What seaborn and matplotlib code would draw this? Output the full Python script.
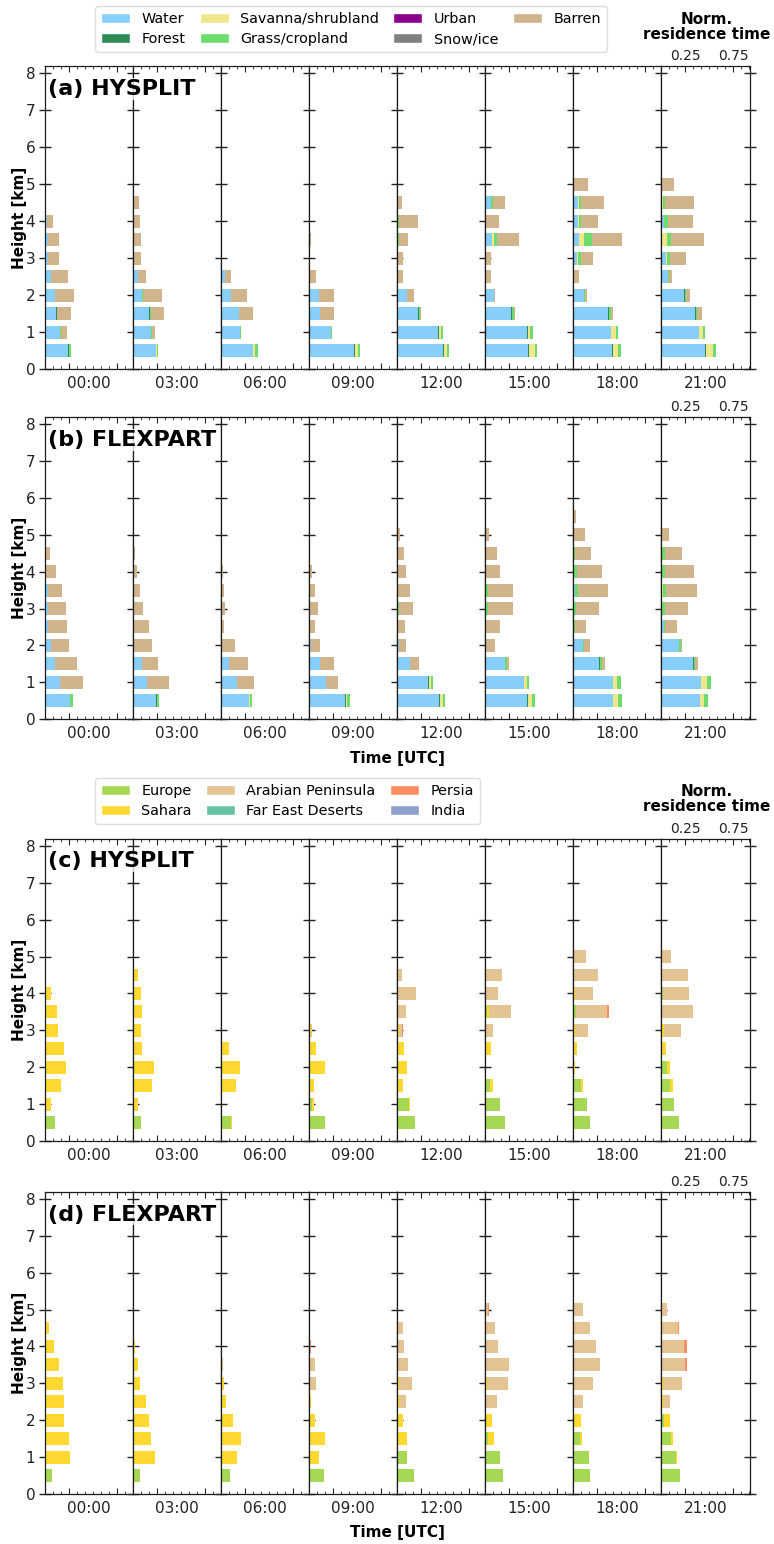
import numpy as np
import matplotlib
matplotlib.use("Agg")
import matplotlib.pyplot as plt
import seaborn as sns
from matplotlib.patches import Patch
from matplotlib.ticker import MultipleLocator, FixedLocator

sns.set_style("ticks")
plt.rcParams["font.family"] = ["DejaVu Sans"]
plt.rcParams.update({"text.color": "black", "axes.labelcolor": "black",
                     "xtick.color": "#222222", "ytick.color": "#222222"})

# ---------------------------------------------------------------- data
TIMES = ["00:00", "03:00", "06:00", "09:00", "12:00", "15:00", "18:00", "21:00"]
LEVELS = [0.5, 1.0, 1.5, 2.0, 2.5, 3.0, 3.5, 4.0, 4.5, 5.0, 5.5]  # km

LAND_CLASSES = ["Water", "Forest", "Savanna/shrubland", "Grass/cropland",
                "Urban", "Snow/ice", "Barren"]
LAND_COLORS = ["#87CEFA", "#2E8B57", "#F0E68C", "#6CDC6C",
               "#8B008B", "#808080", "#D2B48C"]

REGIONS = ["Europe", "Sahara", "Arabian Peninsula", "Far East Deserts",
           "Persia", "India"]
REGION_COLORS = ["#A6D854", "#FFD92F", "#E5C494", "#66C2A5",
                 "#FC8D62", "#8DA0CB"]

Z = [0] * 11

# (a) HYSPLIT land cover: [slot][level]
HYS_WATER = [
    [0.245, 0.16, 0.118, 0.10, 0.066, 0.03, 0.027, 0.017, 0, 0, 0],
    [0.235, 0.187, 0.17, 0.09, 0.052, 0.013, 0.005, 0, 0.01, 0, 0],
    [0.33, 0.20, 0.19, 0.10, 0.04, 0, 0, 0, 0, 0, 0],
    [0.47, 0.23, 0.11, 0.10, 0, 0, 0, 0, 0, 0, 0],
    [0.48, 0.43, 0.22, 0.10, 0, 0, 0.005, 0.01, 0, 0, 0],
    [0.45, 0.44, 0.27, 0.09, 0, 0, 0.07, 0, 0.06, 0, 0],
    [0.405, 0.395, 0.365, 0.115, 0.005, 0.04, 0.06, 0.05, 0.05, 0, 0],
    [0.46, 0.39, 0.355, 0.24, 0.065, 0.05, 0.005, 0.03, 0.01, 0, 0],
]
HYS_FOREST = [
    [0.005, 0, 0.003, 0, 0, 0, 0, 0, 0, 0, 0],
    [0.005, 0.005, 0.01, 0, 0, 0, 0, 0, 0, 0, 0],
    [0.005, 0, 0, 0, 0, 0, 0, 0, 0, 0, 0],
    [0.005, 0, 0, 0, 0, 0, 0, 0, 0, 0, 0],
    [0.005, 0.005, 0.005, 0, 0, 0, 0, 0, 0, 0, 0],
    [0.005, 0.005, 0.005, 0, 0, 0, 0, 0, 0, 0, 0],
    [0.005, 0, 0.005, 0, 0, 0, 0, 0, 0, 0, 0],
    [0.005, 0, 0.005, 0.005, 0, 0, 0, 0, 0, 0, 0],
]
HYS_SAVANNA = [
    Z,
    [0.005, 0, 0, 0, 0, 0, 0, 0, 0, 0, 0],
    [0.02, 0, 0, 0, 0, 0, 0, 0, 0, 0, 0],
    [0.03, 0, 0, 0, 0, 0, 0, 0, 0, 0, 0],
    [0.03, 0.02, 0, 0, 0, 0, 0, 0, 0, 0, 0],
    [0.06, 0.02, 0, 0, 0, 0, 0.02, 0, 0, 0, 0],
    [0.055, 0.05, 0, 0, 0, 0.01, 0.055, 0.01, 0.01, 0, 0],
    [0.07, 0.045, 0, 0, 0, 0.01, 0.05, 0, 0.01, 0, 0],
]
HYS_GRASS = [
    [0.02, 0.005, 0, 0.003, 0, 0, 0, 0, 0, 0, 0],
    [0.02, 0.01, 0.01, 0.01, 0, 0, 0, 0, 0, 0, 0],
    [0.03, 0.005, 0, 0, 0, 0, 0, 0, 0, 0, 0],
    [0.03, 0.01, 0, 0, 0, 0, 0, 0, 0, 0, 0],
    [0.025, 0.02, 0.01, 0, 0, 0, 0.01, 0.01, 0, 0, 0],
    [0.03, 0.03, 0.02, 0, 0, 0, 0.03, 0.01, 0.02, 0, 0],
    [0.03, 0.02, 0.025, 0.005, 0, 0.03, 0.075, 0.02, 0.02, 0.01, 0],
    [0.04, 0.025, 0.015, 0.015, 0.01, 0.03, 0.05, 0.04, 0.02, 0.01, 0],
]
HYS_URBAN = [Z] * 8
HYS_SNOW = [Z, Z, Z, Z, Z, Z,
            [0, 0.005, 0, 0, 0, 0, 0, 0, 0, 0, 0], Z]
HYS_BARREN = [
    [0, 0.06, 0.153, 0.20, 0.177, 0.115, 0.115, 0.07, 0, 0, 0],
    [0, 0.03, 0.13, 0.20, 0.08, 0.075, 0.08, 0.075, 0.05, 0, 0],
    [0, 0, 0.145, 0.17, 0.065, 0.01, 0, 0, 0, 0, 0],
    [0, 0, 0.145, 0.155, 0.07, 0.01, 0.02, 0, 0, 0, 0],
    [0, 0, 0.01, 0.08, 0.06, 0.06, 0.10, 0.20, 0.05, 0, 0],
    [0, 0, 0.01, 0.01, 0.06, 0.06, 0.23, 0.13, 0.13, 0, 0],
    [0, 0, 0.02, 0.02, 0.05, 0.12, 0.32, 0.18, 0.24, 0.14, 0],
    [0, 0, 0.045, 0.035, 0.04, 0.17, 0.34, 0.26, 0.30, 0.12, 0],
]

# (b) FLEXPART land cover
FLX_WATER = [
    [0.26, 0.16, 0.10, 0.06, 0.03, 0.03, 0.03, 0.01, 0, 0, 0],
    [0.24, 0.15, 0.09, 0.01, 0, 0.01, 0, 0, 0, 0, 0],
    [0.29, 0.17, 0.08, 0.01, 0, 0, 0, 0, 0, 0, 0],
    [0.375, 0.18, 0.11, 0.02, 0, 0.01, 0, 0, 0, 0, 0],
    [0.44, 0.32, 0.13, 0.02, 0, 0.01, 0, 0.01, 0, 0, 0],
    [0.44, 0.40, 0.21, 0, 0, 0.01, 0.01, 0, 0, 0, 0],
    [0.41, 0.41, 0.27, 0.10, 0, 0.01, 0.02, 0.01, 0, 0, 0],
    [0.40, 0.41, 0.33, 0.18, 0.03, 0.01, 0.01, 0.01, 0.005, 0, 0],
]
FLX_FOREST = [
    [0.005, 0, 0, 0, 0, 0, 0.005, 0, 0, 0, 0],
    [0.005, 0, 0, 0, 0, 0, 0, 0, 0, 0, 0],
    [0.005, 0, 0, 0, 0, 0, 0, 0, 0, 0, 0],
    [0.005, 0, 0, 0, 0, 0, 0, 0, 0, 0, 0],
    [0.005, 0.01, 0, 0, 0, 0, 0, 0, 0, 0, 0],
    [0.005, 0.005, 0, 0, 0, 0, 0, 0, 0, 0, 0],
    [0.005, 0.005, 0.005, 0, 0, 0, 0, 0, 0, 0, 0],
    [0.005, 0.005, 0.005, 0, 0, 0, 0, 0, 0, 0, 0],
]
FLX_SAVANNA = [
    Z, Z,
    [0.01, 0, 0, 0, 0, 0, 0, 0, 0, 0, 0],
    [0.02, 0, 0, 0, 0, 0, 0, 0, 0, 0, 0],
    [0.03, 0.02, 0, 0, 0, 0, 0, 0, 0, 0, 0],
    [0.04, 0.03, 0, 0, 0, 0, 0, 0, 0, 0, 0],
    [0.05, 0.04, 0, 0, 0, 0, 0, 0, 0, 0, 0],
    [0.04, 0.06, 0, 0, 0, 0, 0.005, 0, 0.005, 0, 0],
]
FLX_GRASS = [
    [0.03, 0, 0, 0, 0, 0, 0, 0, 0, 0, 0],
    [0.03, 0, 0, 0, 0, 0, 0, 0, 0, 0, 0],
    [0.02, 0, 0, 0, 0, 0, 0, 0, 0, 0, 0],
    [0.03, 0, 0, 0, 0, 0, 0, 0, 0, 0, 0],
    [0.02, 0.02, 0, 0, 0, 0.01, 0.01, 0, 0, 0, 0],
    [0.03, 0.02, 0.02, 0, 0, 0.02, 0.02, 0, 0, 0, 0],
    [0.04, 0.04, 0.02, 0.01, 0.02, 0.02, 0.03, 0.03, 0.02, 0.005, 0],
    [0.04, 0.04, 0.02, 0.02, 0.01, 0.03, 0.03, 0.03, 0.03, 0.005, 0],
]
FLX_URBAN = [Z] * 8
FLX_SNOW = [Z] * 8
FLX_BARREN = [
    [0, 0.24, 0.23, 0.19, 0.20, 0.19, 0.14, 0.10, 0.05, 0, 0],
    [0, 0.23, 0.17, 0.19, 0.17, 0.09, 0.07, 0.045, 0.02, 0, 0],
    [0, 0.17, 0.20, 0.14, 0.03, 0.04, 0.03, 0.02, 0, 0, 0],
    [0, 0.12, 0.15, 0.09, 0.06, 0.08, 0.06, 0.03, 0.01, 0, 0],
    [0, 0, 0.10, 0.07, 0.08, 0.14, 0.12, 0.08, 0.07, 0.03, 0],
    [0, 0, 0.02, 0.10, 0.15, 0.26, 0.26, 0.15, 0.12, 0.04, 0.01],
    [0, 0, 0.04, 0.06, 0.11, 0.24, 0.31, 0.26, 0.16, 0.12, 0.03],
    [0, 0, 0.03, 0.01, 0.12, 0.24, 0.33, 0.30, 0.18, 0.07, 0.01],
]

# (c) HYSPLIT source regions
HYS_EUROPE = [
    [0.10, 0, 0, 0, 0, 0, 0, 0, 0, 0, 0],
    [0.08, 0, 0, 0, 0, 0, 0, 0, 0, 0, 0],
    [0.10, 0, 0, 0, 0, 0, 0, 0, 0, 0, 0],
    [0.17, 0.03, 0, 0, 0, 0, 0, 0, 0, 0, 0],
    [0.19, 0.12, 0, 0, 0, 0, 0, 0, 0, 0, 0],
    [0.21, 0.155, 0.05, 0, 0, 0, 0.02, 0, 0, 0, 0],
    [0.17, 0.143, 0.083, 0, 0, 0, 0.025, 0.005, 0.01, 0, 0],
    [0.18, 0.13, 0.087, 0.06, 0, 0, 0.01, 0.02, 0, 0, 0],
]
HYS_SAHARA = [
    [0, 0.06, 0.17, 0.22, 0.20, 0.135, 0.125, 0.06, 0, 0, 0],
    [0, 0.05, 0.20, 0.22, 0.09, 0.08, 0.09, 0.08, 0.05, 0, 0],
    [0.01, 0, 0.16, 0.20, 0.08, 0, 0, 0, 0, 0, 0],
    [0, 0.02, 0.05, 0.17, 0.07, 0.02, 0, 0, 0, 0, 0],
    [0, 0.01, 0.06, 0.10, 0.07, 0.02, 0, 0.01, 0, 0, 0],
    [0, 0, 0.03, 0.01, 0.06, 0.01, 0.02, 0.01, 0, 0, 0],
    [0, 0, 0.017, 0.02, 0.035, 0.02, 0, 0.01, 0, 0, 0],
    [0, 0, 0.037, 0.03, 0.05, 0.03, 0, 0, 0, 0, 0],
]
HYS_ARABIA = [
    Z, Z, Z,
    [0, 0, 0, 0, 0, 0.01, 0.01, 0, 0, 0, 0],
    [0, 0, 0, 0, 0, 0.03, 0.09, 0.19, 0.05, 0, 0],
    [0, 0, 0, 0, 0, 0.07, 0.23, 0.12, 0.17, 0, 0],
    [0, 0, 0, 0, 0, 0.13, 0.33, 0.19, 0.25, 0.13, 0],
    [0, 0, 0, 0, 0, 0.17, 0.32, 0.27, 0.28, 0.10, 0],
]
HYS_FAREAST = [Z] * 8
HYS_PERSIA = [
    Z, Z, Z, Z,
    [0, 0, 0, 0, 0, 0.01, 0, 0, 0, 0, 0],
    Z,
    [0, 0, 0, 0, 0, 0, 0.02, 0, 0, 0, 0],
    Z,
]
HYS_INDIA = [Z] * 8

# (d) FLEXPART source regions
FLX_EUROPE = [
    [0.075, 0, 0, 0, 0, 0, 0, 0, 0, 0, 0],
    [0.07, 0, 0, 0, 0, 0, 0, 0, 0, 0, 0],
    [0.09, 0, 0, 0, 0, 0, 0, 0, 0, 0, 0],
    [0.15, 0, 0, 0, 0, 0, 0, 0, 0, 0, 0],
    [0.18, 0.10, 0, 0, 0, 0, 0, 0, 0, 0, 0],
    [0.18, 0.155, 0.03, 0, 0, 0, 0, 0, 0, 0, 0],
    [0.17, 0.16, 0.07, 0, 0, 0, 0, 0, 0, 0, 0],
    [0.19, 0.15, 0.10, 0.03, 0, 0, 0, 0, 0, 0, 0],
]
FLX_SAHARA = [
    [0, 0.26, 0.25, 0.20, 0.20, 0.19, 0.15, 0.095, 0.04, 0, 0],
    [0, 0.23, 0.19, 0.17, 0.14, 0.07, 0.05, 0.02, 0.01, 0, 0],
    [0, 0.17, 0.21, 0.12, 0.05, 0.03, 0, 0, 0, 0, 0],
    [0, 0.10, 0.17, 0.06, 0.02, 0.01, 0, 0, 0, 0, 0],
    [0, 0.005, 0.10, 0.06, 0.02, 0.02, 0, 0.01, 0, 0, 0],
    [0, 0, 0.06, 0.07, 0.01, 0.02, 0, 0.01, 0, 0, 0],
    [0, 0, 0.02, 0.08, 0.01, 0.01, 0.01, 0, 0, 0, 0],
    [0, 0.01, 0.02, 0.06, 0.02, 0.02, 0, 0, 0, 0, 0],
]
FLX_ARABIA = [
    Z, Z,
    [0, 0, 0, 0, 0, 0, 0.02, 0, 0, 0, 0],
    [0, 0, 0, 0, 0, 0.06, 0.06, 0.01, 0, 0, 0],
    [0, 0, 0, 0, 0.07, 0.13, 0.11, 0.06, 0.06, 0, 0],
    [0, 0, 0, 0, 0.11, 0.22, 0.25, 0.12, 0.10, 0.03, 0],
    [0, 0, 0, 0, 0.09, 0.20, 0.27, 0.24, 0.17, 0.10, 0],
    [0, 0, 0, 0, 0.07, 0.19, 0.25, 0.24, 0.17, 0.06, 0],
]
FLX_FAREAST = [Z] * 8
FLX_PERSIA = [
    Z, Z, Z,
    [0, 0, 0, 0, 0, 0, 0, 0.01, 0, 0, 0],
    Z,
    [0, 0, 0, 0, 0, 0, 0, 0, 0, 0.01, 0],
    Z,
    [0, 0, 0, 0, 0, 0, 0.02, 0.03, 0.01, 0, 0],
]
FLX_INDIA = [Z, Z, Z, Z, Z, Z,
             [0, 0, 0, 0, 0, 0, 0, 0, 0, 0, 0.005], Z]

PANELS = [
    ("(a) HYSPLIT", [HYS_WATER, HYS_FOREST, HYS_SAVANNA, HYS_GRASS,
                     HYS_URBAN, HYS_SNOW, HYS_BARREN], LAND_COLORS),
    ("(b) FLEXPART", [FLX_WATER, FLX_FOREST, FLX_SAVANNA, FLX_GRASS,
                      FLX_URBAN, FLX_SNOW, FLX_BARREN], LAND_COLORS),
    ("(c) HYSPLIT", [HYS_EUROPE, HYS_SAHARA, HYS_ARABIA, HYS_FAREAST,
                     HYS_PERSIA, HYS_INDIA], REGION_COLORS),
    ("(d) FLEXPART", [FLX_EUROPE, FLX_SAHARA, FLX_ARABIA, FLX_FAREAST,
                      FLX_PERSIA, FLX_INDIA], REGION_COLORS),
]

# ---------------------------------------------------------------- layout
W, H = 774, 1544
fig = plt.figure(figsize=(W / 100, H / 100), dpi=100)


def fx(px):
    return px / W


def fy(py):
    return 1 - py / H


X0, X1 = 45, 749.5
PANEL_Y = [(66, 369), (417, 719), (838.5, 1141), (1191.5, 1494)]
XMAX = 0.92
YMAX = 8.2
slot_w = (X1 - X0) / 8

for p, (title, cats, colors) in enumerate(PANELS):
    top, bot = PANEL_Y[p]
    for s in range(8):
        ax = fig.add_axes([fx(X0 + s * slot_w), fy(bot),
                           fx(slot_w), (bot - top) / H])
        vals = np.array([c[s] for c in cats], dtype=float)  # (ncat, nlev)
        cum = np.cumsum(vals, axis=0)
        for k in range(len(cats) - 1, -1, -1):
            sns.barplot(x=cum[k], y=LEVELS, orient="y", native_scale=True,
                        color=colors[k], saturation=1, width=0.7,
                        errorbar=None, linewidth=0, ax=ax)
        ax.set_xlim(0, XMAX)
        ax.set_ylim(0, YMAX)
        ax.set_xlabel("")
        ax.set_ylabel("")
        ax.xaxis.set_major_locator(FixedLocator([0.25, 0.75]))
        ax.xaxis.set_minor_locator(MultipleLocator(1 / 12))
        ax.yaxis.set_major_locator(MultipleLocator(1))
        ax.tick_params(axis="x", which="major", direction="in", top=True,
                       bottom=True, length=4, width=0.8,
                       labelbottom=False, labeltop=(s == 7),
                       labelsize=10, pad=2)
        ax.tick_params(axis="x", which="minor", direction="in", top=True,
                       bottom=True, length=2.5, width=0.6)
        ax.tick_params(axis="y", which="major", direction="inout",
                       length=8, width=1.0, left=True, right=(s == 7),
                       labelleft=(s == 0), labelsize=11, pad=3)
        if s == 7:
            ax.set_xticklabels(["0.25", "0.75"])
        for sp in ax.spines.values():
            sp.set_color("#1a1a1a")
            sp.set_linewidth(0.9)
            sp.set_zorder(5)
        ax.text(0.5, -0.022, TIMES[s], transform=ax.transAxes,
                ha="center", va="top", fontsize=11, color="#222222")
    fig.text(fx(48), fy(top + 23), title, fontsize=16, fontweight="bold",
             ha="left", va="center", zorder=20,
             bbox=dict(facecolor="white", edgecolor="none", alpha=0.75,
                       pad=0.5))
    fig.text(fx(20), fy((top + bot) / 2), "Height [km]", rotation=90,
             fontsize=11, fontweight="bold", ha="center", va="center")

for yb in (758, 1533):
    fig.text(fx(397), fy(yb), "Time [UTC]", fontsize=11, fontweight="bold",
             ha="center", va="center")

for yt in (27, 799):
    fig.text(fx(707), fy(yt), "Norm.\nresidence time", fontsize=11,
             fontweight="bold", ha="center", va="center", linespacing=1.05)

land_handles = [Patch(facecolor=c, label=l) for l, c in zip(LAND_CLASSES, LAND_COLORS)]
fig.legend(handles=land_handles, loc="upper left",
           bbox_to_anchor=(fx(95), fy(6)), ncol=4, fontsize=10.4,
           frameon=True, framealpha=1, edgecolor="#dddddd",
           borderaxespad=0, handlelength=2.0, columnspacing=1.0,
           labelspacing=0.45)

reg_handles = [Patch(facecolor=c, label=l) for l, c in zip(REGIONS, REGION_COLORS)]
fig.legend(handles=reg_handles, loc="upper left",
           bbox_to_anchor=(fx(95), fy(778)), ncol=3, fontsize=10.4,
           frameon=True, framealpha=1, edgecolor="#dddddd",
           borderaxespad=0, handlelength=2.0, columnspacing=1.0,
           labelspacing=0.45)

fig.savefig("out.png", dpi=100)
